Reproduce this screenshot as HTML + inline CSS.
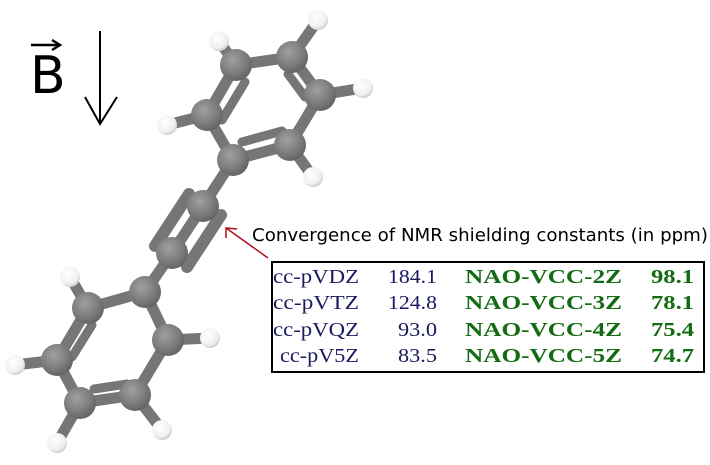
<!DOCTYPE html>
<html><head><meta charset="utf-8"><style>
html,body{margin:0;padding:0;background:#fff;}
body{width:710px;height:465px;position:relative;overflow:hidden;}
</style></head><body>
<svg width="710" height="465" viewBox="0 0 710 465" xmlns="http://www.w3.org/2000/svg" style="position:absolute;left:0;top:0">
<defs>
<radialGradient id="gc" cx="0.4" cy="0.35" r="0.7">
<stop offset="0" stop-color="#a0a0a0"/><stop offset="0.6" stop-color="#7c7c7c"/><stop offset="1" stop-color="#606060"/>
</radialGradient>
<radialGradient id="gh" cx="0.4" cy="0.35" r="0.7">
<stop offset="0" stop-color="#ffffff"/><stop offset="0.7" stop-color="#f0f0f0"/><stop offset="1" stop-color="#c4c4c4"/>
</radialGradient>
</defs>
<text x="30" y="93" font-family="DejaVu Sans, Liberation Sans, sans-serif" font-size="52" fill="#000">B</text>
<line x1="31" y1="45" x2="59" y2="45" stroke="#000" stroke-width="2.5"/>
<path d="M52 40 L60 45 L52 50" fill="none" stroke="#000" stroke-width="2.5"/>
<line x1="100" y1="31" x2="100" y2="124" stroke="#000" stroke-width="2"/>
<path d="M85 97 L100 124 L117 97" fill="none" stroke="#000" stroke-width="2"/>
<line x1="268" y1="258" x2="226" y2="228" stroke="#b0101a" stroke-width="1.5"/>
<path d="M226 238 L226 228 L237 229" fill="none" stroke="#b0101a" stroke-width="1.5"/>
<g stroke="#767676" stroke-width="11" stroke-linecap="round" fill="none">
<line x1="236" y1="65" x2="219" y2="41"/><line x1="292" y1="57" x2="318" y2="20"/>
<line x1="320" y1="95" x2="363" y2="88"/><line x1="290" y1="145" x2="313" y2="177"/>
<line x1="207" y1="115" x2="167" y2="125"/>
<line x1="88" y1="308" x2="70" y2="277"/><line x1="57" y1="360" x2="15" y2="365"/>
<line x1="80" y1="403" x2="57" y2="443"/><line x1="135" y1="395" x2="162" y2="430"/>
<line x1="168" y1="340" x2="210" y2="338"/>
<line x1="236" y1="65" x2="292" y2="57"/><line x1="292" y1="57" x2="320" y2="95"/>
<line x1="320" y1="95" x2="290" y2="145"/><line x1="290" y1="145" x2="233" y2="160"/>
<line x1="233" y1="160" x2="207" y2="115"/><line x1="207" y1="115" x2="236" y2="65"/>
<line x1="245" y1="82" x2="222" y2="120" stroke-width="9"/>
<line x1="288" y1="74" x2="305" y2="97" stroke-width="9"/>
<line x1="282" y1="131" x2="242" y2="142" stroke-width="9"/>
<line x1="233" y1="160" x2="203" y2="206"/>
<line x1="203" y1="206" x2="172" y2="253"/>
<line x1="172" y1="253" x2="145" y2="292"/>
<line x1="189" y1="194" x2="155" y2="246" stroke-width="12"/>
<line x1="221" y1="215" x2="187" y2="267" stroke-width="12"/>
<line x1="145" y1="292" x2="88" y2="308"/><line x1="88" y1="308" x2="57" y2="360"/>
<line x1="57" y1="360" x2="80" y2="403"/><line x1="80" y1="403" x2="135" y2="395"/>
<line x1="135" y1="395" x2="168" y2="340"/><line x1="168" y1="340" x2="145" y2="292"/>
<line x1="92" y1="325" x2="72" y2="357" stroke-width="9"/>
<line x1="94" y1="389" x2="127" y2="384" stroke-width="9"/>
<line x1="151" y1="307" x2="162" y2="330" stroke-width="9"/>
</g>
<g fill="url(#gh)">
<circle cx="219" cy="41" r="10"/><circle cx="318" cy="20" r="10"/><circle cx="363" cy="88" r="10"/>
<circle cx="313" cy="177" r="10"/><circle cx="167" cy="125" r="10"/>
<circle cx="70" cy="277" r="10"/><circle cx="15" cy="365" r="10"/><circle cx="57" cy="443" r="10"/>
<circle cx="162" cy="430" r="10"/><circle cx="210" cy="338" r="10"/>
</g>
<g fill="url(#gc)">
<circle cx="236" cy="65" r="16"/><circle cx="292" cy="57" r="16"/><circle cx="320" cy="95" r="16"/>
<circle cx="290" cy="145" r="16"/><circle cx="233" cy="160" r="16"/><circle cx="207" cy="115" r="16"/>
<circle cx="203" cy="206" r="16"/><circle cx="172" cy="253" r="16"/>
<circle cx="145" cy="292" r="16"/><circle cx="88" cy="308" r="16"/><circle cx="57" cy="360" r="16"/>
<circle cx="80" cy="403" r="16"/><circle cx="135" cy="395" r="16"/><circle cx="168" cy="340" r="16"/>
</g>
<text x="252" y="241" font-family="DejaVu Sans, Liberation Sans, sans-serif" font-size="17.5" fill="#000" textLength="456" lengthAdjust="spacingAndGlyphs">Convergence of NMR shielding constants (in ppm)</text>
<rect x="272" y="262" width="432" height="110" fill="none" stroke="#000" stroke-width="2"/>
<g font-family="Liberation Serif, serif" font-size="20" fill="#1a1a5e" lengthAdjust="spacingAndGlyphs">
<text x="273" y="283" textLength="86" lengthAdjust="spacingAndGlyphs">cc-pVDZ</text><text x="388" y="283" textLength="49" lengthAdjust="spacingAndGlyphs">184.1</text>
<text x="273" y="309" textLength="86" lengthAdjust="spacingAndGlyphs">cc-pVTZ</text><text x="388" y="309" textLength="49" lengthAdjust="spacingAndGlyphs">124.8</text>
<text x="273" y="336" textLength="86" lengthAdjust="spacingAndGlyphs">cc-pVQZ</text><text x="398" y="336" textLength="39" lengthAdjust="spacingAndGlyphs">93.0</text>
<text x="280" y="362" textLength="79" lengthAdjust="spacingAndGlyphs">cc-pV5Z</text><text x="398" y="362" textLength="39" lengthAdjust="spacingAndGlyphs">83.5</text>
</g>
<g font-family="Liberation Serif, serif" font-size="20" font-weight="bold" fill="#136b13">
<text x="465" y="283" textLength="157" lengthAdjust="spacingAndGlyphs">NAO-VCC-2Z</text><text x="651" y="283" textLength="43" lengthAdjust="spacingAndGlyphs">98.1</text>
<text x="465" y="309" textLength="157" lengthAdjust="spacingAndGlyphs">NAO-VCC-3Z</text><text x="651" y="309" textLength="43" lengthAdjust="spacingAndGlyphs">78.1</text>
<text x="465" y="336" textLength="157" lengthAdjust="spacingAndGlyphs">NAO-VCC-4Z</text><text x="651" y="336" textLength="43" lengthAdjust="spacingAndGlyphs">75.4</text>
<text x="465" y="362" textLength="157" lengthAdjust="spacingAndGlyphs">NAO-VCC-5Z</text><text x="651" y="362" textLength="43" lengthAdjust="spacingAndGlyphs">74.7</text>
</g>
</svg>
</body></html>
